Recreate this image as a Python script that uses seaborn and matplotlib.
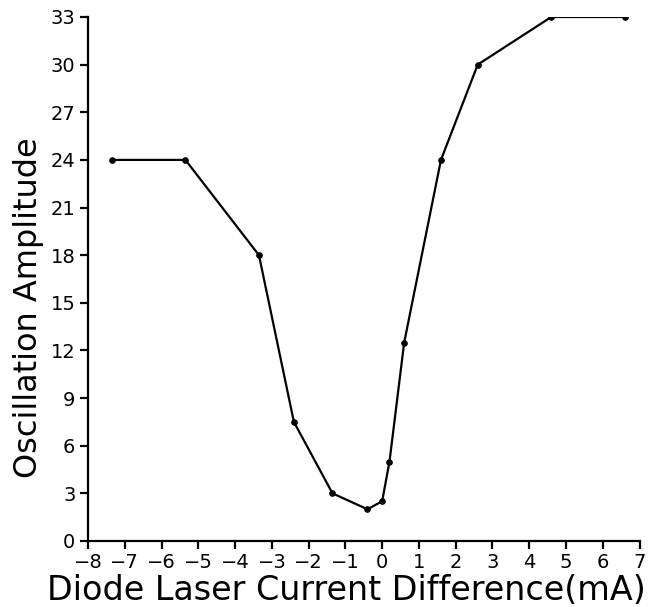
import matplotlib
matplotlib.use("Agg")
import matplotlib.pyplot as plt
import seaborn as sns
import pandas as pd

# Measured oscillation amplitude versus diode laser current offset
current_diff_mA = [-7.35, -5.35, -3.35, -2.4, -1.35, -0.4, 0.0, 0.2, 0.6, 1.6, 2.6, 4.6, 6.6]
amplitude = [24, 24, 18, 7.5, 3, 2, 2.5, 5, 12.5, 24, 30, 33, 33]
x_ticks = list(range(-8, 8))
y_ticks = list(range(0, 34, 3))

sns.set_style("ticks")
plt.rcParams["font.family"] = ["DejaVu Sans"]
plt.rcParams["axes.labelcolor"] = "black"

df = pd.DataFrame({"current": current_diff_mA, "amp": amplitude})

fig = plt.figure(figsize=(6.64, 6.07), dpi=100)
ax = fig.add_axes([88 / 664, 1 - 541 / 607, (639.5 - 88) / 664, (541 - 17) / 607])

sns.lineplot(data=df, x="current", y="amp", ax=ax, color="black", linewidth=1.6,
             marker="o", markersize=4, markeredgecolor="black", sort=False)

ax.set_xlim(-8, 7)
ax.set_ylim(0, 33)
ax.set_xticks(x_ticks)
ax.set_yticks(y_ticks)
ax.set_xticklabels([str(t).replace("-", "\u2212") for t in x_ticks])
ax.tick_params(axis="both", direction="out", length=6, width=1.6, labelsize=14,
               color="black", labelcolor="black", pad=3)
for side in ("top", "right"):
    ax.spines[side].set_visible(False)
for side in ("left", "bottom"):
    ax.spines[side].set_linewidth(1.6)
    ax.spines[side].set_color("black")

ax.set_xlabel("Diode Laser Current Difference(mA)", fontsize=24, color="black")
ax.set_ylabel("Oscillation Amplitude", fontsize=23, color="black")
ax.xaxis.set_label_coords(0.469, -0.063)
ax.yaxis.set_label_coords(-0.08, 0.445)

fig.savefig("out.png", dpi=100, facecolor="white")
